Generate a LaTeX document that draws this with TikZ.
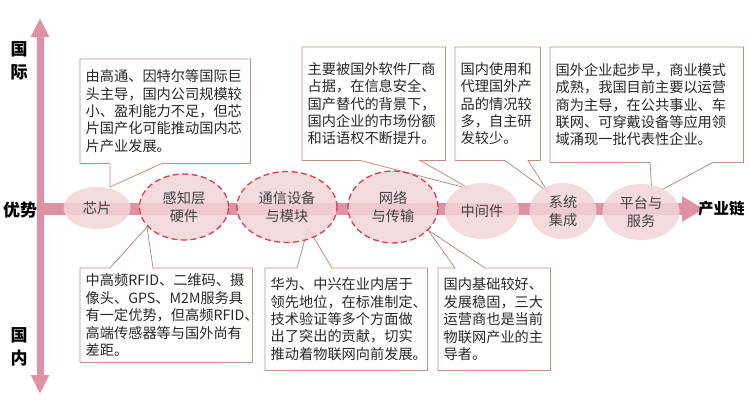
\documentclass[tikz,border=0pt]{standalone}
\usepackage{fontspec}
\setmainfont{Noto Sans CJK SC}
\usepackage{xcolor}
\usepackage{tikz}
\usetikzlibrary{
  shapes.geometric,
  arrows.meta,
  positioning,
  backgrounds,
  calc
}
\definecolor{axispink}{RGB}{224, 145, 163}
\definecolor{stagefill}{RGB}{242, 214, 216}
\definecolor{dashred}{RGB}{222, 60, 80}
\definecolor{noteline}{RGB}{196, 140, 130}
\definecolor{notetext}{RGB}{40, 40, 40}

\begin{document}
\begin{tikzpicture}[
  x=1pt, y=-1pt,
  every node/.style={font=\fontsize{14.2}{17.4}\selectfont, text=notetext}
]
  % Styles
  \tikzstyle{stage} = [ellipse, inner sep=0pt, fill=stagefill, fill opacity=0.85, text opacity=1, align=center, font=\fontsize{14.2}{18}\selectfont, text=black!75]
  \tikzstyle{keystage} = [stage, draw=dashred, dash pattern=on 6pt off 3.5pt, line width=1.3pt]
  \tikzstyle{note} = [rectangle, anchor=north west, align=left, inner xsep=5.5pt, inner ysep=0pt]
  \tikzstyle{callout} = [draw=noteline, fill=white, line width=0.8pt]
  \tikzstyle{axislabel} = [font=\fontsize{17}{23}\selectfont\bfseries, text=black, align=center]

  \useasboundingbox (0,0) rectangle (750,402);

  % Axes
  \coordinate (top) at (40,18);
  \coordinate (bottom) at (40,394);
  \coordinate (origin) at (37,209);
  \coordinate (chainend) at (704,209);
  \draw[axispink, line width=7pt, {Triangle[width=17pt,length=19pt]}-{Triangle[width=17pt,length=19pt]}] (top) -- (bottom);
  \draw[axispink, line width=12pt, -{Triangle[width=24pt,length=22pt]}] (origin) -- (chainend);

  % Axis labels
  \node[axislabel] (intl) at (19,61) {国\\际};
  \node[axislabel] (adv) at (20,210) {优势};
  \node[axislabel] (dom) at (19,347) {国\\内};
  \node[axislabel, font=\fontsize{15.5}{20}\selectfont\bfseries, inner sep=0pt, right=-6pt of chainend] (chain) {产业链};

  % Chain stages
  \node[stage, minimum width=67pt, minimum height=42pt] (chip) at (97,208) {芯片};
  \node[keystage, minimum width=89pt, minimum height=66pt] (sense) at (184,207) {感知层\\硬件};
  \node[keystage, minimum width=100pt, minimum height=71pt] (comm) at (287,207) {通信设备\\与模块};
  \node[keystage, minimum width=90pt, minimum height=72pt] (net) at (393,207) {网络\\与传输};
  \node[stage, minimum width=74pt, minimum height=56pt] (mid) at (482,211) {中间件};
  \node[stage, minimum width=67pt, minimum height=56pt] (sys) at (563,211) {系统\\集成};
  \node[stage, minimum width=77pt, minimum height=56pt] (plat) at (641,212) {平台与\\服务};

  % Notes (international)
  \node[note, text width=159pt, minimum height=104pt] (n1) at (80,59) {由高通、因特尔等国际巨\\头主导，国内公司规模较\\小、盈利能力不足，但芯\\片国产化可能推动国内芯\\片产业发展。};
  \node[note, text width=132pt, minimum height=113pt] (n2) at (302,47) {主要被国外软件厂商\\占据，在信息安全、\\国产替代的背景下，\\国内企业的市场份额\\和话语权不断提升。};
  \node[note, text width=74pt, minimum height=113pt] (n3) at (455,47) {国内使用和\\代理国外产\\品的情况较\\多，自主研\\发较少。};
  \node[note, text width=182pt, minimum height=115pt] (n4) at (550,47) {国外企业起步早，商业模式\\成熟，我国目前主要以运营\\商为主导，在公共事业、车\\联网、可穿戴设备等应用领\\域涌现一批代表性企业。};

  % Notes (domestic)
  \node[note, text width=161pt, minimum height=94pt] (n5) at (80,268) {中高频RFID、二维码、摄\\像头、GPS、M2M服务具\\有一定优势，但高频RFID、\\高端传感器等与国外尚有\\差距。};
  \node[note, text width=151pt, minimum height=102pt] (n6) at (265,268) {华为、中兴在业内居于\\领先地位，在标准制定、\\技术验证等多个方面做\\出了突出的贡献，切实\\推动着物联网向前发展。};
  \node[note, text width=101pt, minimum height=102pt] (n7) at (438,268) {国内基础较好、\\发展稳固，三大\\运营商也是当前\\物联网产业的主\\导者。};

  % Callout outlines
  \begin{scope}[on background layer]
    \draw[callout] (n1.north west) -- (n1.north east) -- (n1.south east) -- ($(n1.south west)+(82,0)$) -- ($(chip)+(13,-21)$) -- ($(n1.south west)+(30,0)$) -- (n1.south west) -- cycle;
    \draw[callout] (n2.north west) -- (n2.north east) -- (n2.south east) -- ($(n2.south west)+(118,0)$) -- ($(mid)+(-12,-22)$) -- ($(n2.south west)+(58,0)$) -- (n2.south west) -- cycle;
    \draw[callout] (n3.north west) -- (n3.north east) -- (n3.south east) -- ($(n3.south west)+(73,0)$) -- ($(sys)+(-15,-19)$) -- ($(n3.south west)+(50,0)$) -- (n3.south west) -- cycle;
    \draw[callout] (n4.north west) -- (n4.north east) -- (n4.south east) -- ($(n4.south west)+(163,0)$) -- ($(plat)+(11,-17)$) -- ($(n4.south west)+(100,0)$) -- (n4.south west) -- cycle;
    \draw[callout] (n5.south west) -- (n5.south east) -- (n5.north east) -- ($(n5.north west)+(73,0)$) -- ($(sense)+(-37,20)$) -- ($(n5.north west)+(30,0)$) -- (n5.north west) -- cycle;
    \draw[callout] (n6.south west) -- (n6.south east) -- (n6.north east) -- ($(n6.north west)+(67,0)$) -- ($(comm)+(21,21)$) -- ($(n6.north west)+(32,0)$) -- (n6.north west) -- cycle;
    \draw[callout] (n7.south west) -- (n7.south east) -- (n7.north east) -- ($(n7.north west)+(47,0)$) -- ($(net)+(35,23)$) -- ($(n7.north west)+(17,0)$) -- (n7.north west) -- cycle;
  \end{scope}
\end{tikzpicture}
\end{document}
